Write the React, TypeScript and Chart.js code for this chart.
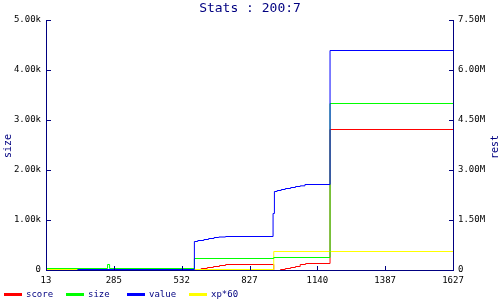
import React, { useEffect, useRef } from "react";
import { Chart, registerables } from "chart.js";

Chart.register(...registerables);

// ---- data ----
const TITLE = "Stats : 200:7";
const LEFT_TITLE = "size";
const RIGHT_TITLE = "rest";
const seriesNames = ["score", "size", "value", "xp*60"];
const seriesColors = ["#ff0000", "#00ff00", "#0000ff", "#ffff00"];

// x axis: sample index, labelled with the turn value at that sample
const xTickIdx = [0, 100, 200, 300, 400, 500, 600];
const xTickLabels = ["13", "285", "532", "827", "1140", "1387", "1627"];

const scoreX = [0, 221, 228, 237, 246, 255, 264, 335, 345, 352, 360, 367, 374, 382, 418, 600];
const scoreY = [0, 30000, 60000, 90000, 120000, 150000, 180000, 0, 30000, 60000, 90000, 120000, 180000, 210000, 4230000, 4230000];

const sizeX = [0, 90, 93, 218, 335, 418, 600];
const sizeY = [40, 120, 40, 240, 260, 3340, 3340];

const valueX = [0, 46, 218, 223, 232, 239, 247, 254, 264, 334, 336, 340, 346, 352, 360, 367, 374, 381, 418, 600];
const valueY = [0, 30000, 870000, 900000, 930000, 960000, 990000, 1005000, 1020000, 1710000, 2370000, 2400000, 2430000, 2460000, 2490000, 2520000, 2540000, 2580000, 6600000, 6600000];

const xpX = [0, 335, 600];
const xpY = [30000, 570000, 570000];

const NAVY = "#000080";
const MONO = "'DejaVu Sans Mono', monospace";

const pts = (xs: number[], ys: number[]) => xs.map((x, i) => ({ x, y: ys[i] }));

const decor = {
  id: "decor",
  beforeDatasetsDraw(chart: any) {
    chart.ctx.save();
    chart.ctx.translate(0.5, 0.5);
  },
  afterDatasetsDraw(chart: any) {
    chart.ctx.restore();
  },
  afterDraw(chart: any) {
    const ctx = chart.ctx as CanvasRenderingContext2D;
    const { left, right, top, bottom } = chart.chartArea;
    const sy = chart.scales.y;
    const sy1 = chart.scales.y1;
    const sx = chart.scales.x;
    ctx.save();
    // axis lines
    ctx.fillStyle = NAVY;
    ctx.fillRect(left, top, 1, bottom - top + 1);
    ctx.fillRect(right, top, 1, bottom - top + 1);
    ctx.fillRect(left, bottom, right - left + 1, 1);

    ctx.strokeStyle = NAVY;
    ctx.lineWidth = 1;
    ctx.beginPath();
    sy.ticks.forEach((t: any) => {
      const p = Math.round(sy.getPixelForValue(t.value)) + 0.5;
      ctx.moveTo(left, p);
      ctx.lineTo(left + 5, p);
    });
    sy1.ticks.forEach((t: any) => {
      const p = Math.round(sy1.getPixelForValue(t.value)) + 0.5;
      ctx.moveTo(right + 1, p);
      ctx.lineTo(right - 4, p);
    });
    sx.ticks.forEach((t: any) => {
      const p = Math.round(sx.getPixelForValue(t.value)) + 0.5;
      ctx.moveTo(p, bottom);
      ctx.lineTo(p, bottom - 4);
    });
    ctx.stroke();

    // title
    ctx.fillStyle = NAVY;
    ctx.font = `13px ${MONO}`;
    ctx.textAlign = "center";
    ctx.textBaseline = "middle";
    ctx.fillText(TITLE, 250, 9);

    // axis titles (both read bottom-to-top)
    ctx.font = `10px ${MONO}`;
    ctx.save();
    ctx.translate(8, 146);
    ctx.rotate(-Math.PI / 2);
    ctx.fillText(LEFT_TITLE, 0, 0);
    ctx.restore();
    ctx.save();
    ctx.translate(495, 147);
    ctx.rotate(-Math.PI / 2);
    ctx.fillText(RIGHT_TITLE, 0, 0);
    ctx.restore();

    // legend
    ctx.font = `9px ${MONO}`;
    ctx.textAlign = "left";
    ctx.textBaseline = "middle";
    seriesNames.forEach((name, i) => {
      const x0 = 4 + i * 61.5;
      ctx.fillStyle = seriesColors[i];
      ctx.fillRect(Math.round(x0), 293, 18, 3);
      ctx.fillStyle = NAVY;
      ctx.fillText(name, Math.round(x0) + 22, 295);
    });
    ctx.restore();
  },
};

export default function App() {
  const ref = useRef<HTMLCanvasElement>(null);
  useEffect(() => {
    if (!ref.current) return;
    const mk = (i: number, xs: number[], ys: number[], axis: string, order: number) => ({
      label: seriesNames[i],
      data: pts(xs, ys),
      yAxisID: axis,
      borderColor: seriesColors[i],
      backgroundColor: seriesColors[i],
      borderWidth: 1,
      pointRadius: 0,
      stepped: true,
      fill: false,
      order,
    });
    const chart = new Chart(ref.current, {
      type: "line",
      data: {
        datasets: [
          mk(0, scoreX, scoreY, "y1", 3),
          mk(1, sizeX, sizeY, "y", 1),
          mk(2, valueX, valueY, "y1", 0),
          mk(3, xpX, xpY, "y1", 2),
        ] as any,
      },
      options: {
        animation: false,
        responsive: false,
        events: [],
        layout: { padding: { top: 20, left: 0, right: 0, bottom: 0 } },
        plugins: { legend: { display: false }, title: { display: false }, tooltip: { enabled: false } },
        scales: {
          x: {
            type: "linear",
            min: 0,
            max: 600,
            grid: { display: false, drawTicks: false },
            border: { display: false },
            afterBuildTicks: (s: any) => {
              s.ticks = xTickIdx.map((v) => ({ value: v }));
            },
            afterFit: (s: any) => {
              s.height = 30;
            },
            ticks: {
              padding: 5,
              color: "#000",
              font: { family: MONO, size: 9 },
              maxRotation: 0,
              autoSkip: false,
              callback: (v: any) => {
                const i = xTickIdx.indexOf(Number(v));
                return i >= 0 ? xTickLabels[i] : "";
              },
            },
          },
          y: {
            position: "left",
            min: 0,
            max: 5000,
            grid: { display: false, drawTicks: false },
            border: { display: false },
            afterFit: (s: any) => {
              s.width = 46;
            },
            ticks: {
              stepSize: 1000,
              padding: 5,
              color: "#000",
              font: { family: MONO, size: 9 },
              callback: (v: any) => (Number(v) === 0 ? "0" : (Number(v) / 1000).toFixed(2) + "k"),
            },
          },
          y1: {
            position: "right",
            min: 0,
            max: 7500000,
            grid: { display: false, drawTicks: false },
            border: { display: false },
            afterFit: (s: any) => {
              s.width = 47;
            },
            ticks: {
              stepSize: 1500000,
              padding: 5,
              color: "#000",
              font: { family: MONO, size: 9 },
              callback: (v: any) => (Number(v) === 0 ? "0" : (Number(v) / 1000000).toFixed(2) + "M"),
            },
          },
        },
      } as any,
      plugins: [decor],
    });
    return () => chart.destroy();
  }, []);
  return (
    <div style={{ position: "fixed", left: 0, top: 0, width: 500, height: 300, background: "#fff" }}>
      <canvas ref={ref} width={500} height={300} style={{ display: "block" }} />
    </div>
  );
}
